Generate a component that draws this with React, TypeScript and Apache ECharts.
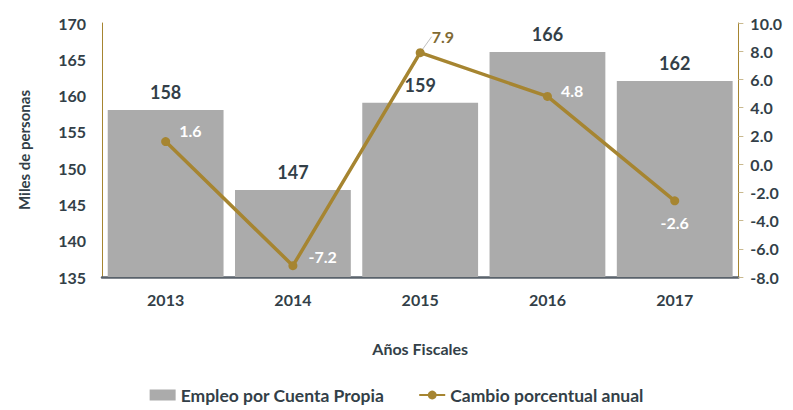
import React, { useEffect, useRef } from "react";
import * as echarts from "echarts";

const years = ["2013", "2014", "2015", "2016", "2017"];
const empleo = [158, 147, 159, 166, 162];
const cambio = [1.6, -7.2, 7.9, 4.8, -2.6];
const leftTicks = { min: 135, max: 170, interval: 5 };
const rightTicks = { min: -8, max: 10, interval: 2 };

const FONT = "Lato";
const DARK = "#333F48";
const GOLD = "#A68531";

export default function App() {
  const ref = useRef<HTMLDivElement>(null);
  useEffect(() => {
    const chart = echarts.init(ref.current!, null, { renderer: "svg" });
    const lineLabels = [
      { position: "right", color: "#fff" },
      { position: "right", color: "#fff" },
      { position: "right", color: "#7F6A34" },
      { position: "right", color: "#fff" },
      { position: "bottom", color: "#fff" },
    ];
    const labelShift = [
      { dx: 4, dy: -11 },
      { dx: 6, dy: -9 },
      { dx: 2, dy: -16 },
      { dx: 4, dy: -6 },
      { dx: 0, dy: 4 },
    ];
    chart.setOption({
      animation: false,
      textStyle: { fontFamily: FONT },
      grid: { left: 81, right: 40, top: 15, bottom: 133 },
      legend: {
        top: 373,
        left: "center",
        itemGap: 34,
        itemWidth: 26,
        itemHeight: 11,
        textStyle: { fontFamily: FONT, fontWeight: "bold", fontSize: 17.5, color: DARK },
        data: [
          { name: "Empleo por Cuenta Propia", icon: "rect" },
          { name: "Cambio porcentual anual" },
        ],
      },
      xAxis: {
        type: "category",
        data: years,
        name: "Años Fiscales",
        nameLocation: "middle",
        nameGap: 63,
        nameTextStyle: { fontFamily: FONT, fontWeight: "bold", fontSize: 16, color: DARK },
        axisLine: { onZero: false, lineStyle: { color: "#59626B", width: 2.5 } },
        axisTick: { show: false },
        axisLabel: { fontFamily: FONT, fontWeight: "bold", fontSize: 16, color: DARK, margin: 14 },
      },
      yAxis: [
        {
          type: "value",
          ...leftTicks,
          name: "Miles de personas",
          nameLocation: "middle",
          nameGap: 71,
          nameTextStyle: { fontFamily: FONT, fontWeight: "bold", fontSize: 15, color: DARK },
          splitLine: { show: false },
          axisLine: { show: true, onZero: false, lineStyle: { color: GOLD, width: 1 } },
          axisTick: { show: false },
          axisLabel: { fontFamily: FONT, fontWeight: "bold", fontSize: 16, color: DARK, margin: 16 },
        },
        {
          type: "value",
          ...rightTicks,
          position: "right",
          splitLine: { show: false },
          axisLine: { show: true, onZero: false, lineStyle: { color: GOLD, width: 1 } },
          axisTick: { show: true, length: 5, lineStyle: { color: "#C9B98F" } },
          axisLabel: {
            fontFamily: FONT,
            fontWeight: "bold",
            fontSize: 16,
            color: DARK,
            margin: 12,
            formatter: (v: number) => v.toFixed(1),
          },
        },
      ],
      series: [
        {
          name: "Empleo por Cuenta Propia",
          type: "bar",
          data: empleo,
          barCategoryGap: "9%",
          itemStyle: { color: "#ABABAB" },
          label: {
            show: true,
            position: "top",
            distance: 9,
            fontFamily: FONT,
            fontWeight: "bold",
            fontSize: 18,
            color: DARK,
          },
        },
        {
          name: "Cambio porcentual anual",
          type: "line",
          yAxisIndex: 1,
          data: cambio.map((v, i) => ({
            value: v,
            label: {
              show: true,
              fontFamily: FONT,
              fontWeight: "bold",
              fontSize: 16,
              formatter: (p: any) => p.value.toFixed(1),
              ...lineLabels[i],
            },
            labelLine: i === 2 ? { show: true, lineStyle: { color: "#BFBFBF", width: 1 } } : { show: false },
          })),
          labelLayout: (p: any) => labelShift[p.dataIndex] || {},
          symbol: "circle",
          symbolSize: 9,
          lineStyle: { color: GOLD, width: 3.5 },
          itemStyle: { color: GOLD },
          z: 3,
        },
      ],
    });
    return () => chart.dispose();
  }, []);
  return <div ref={ref} style={{ width: 777, height: 402 }} />;
}
